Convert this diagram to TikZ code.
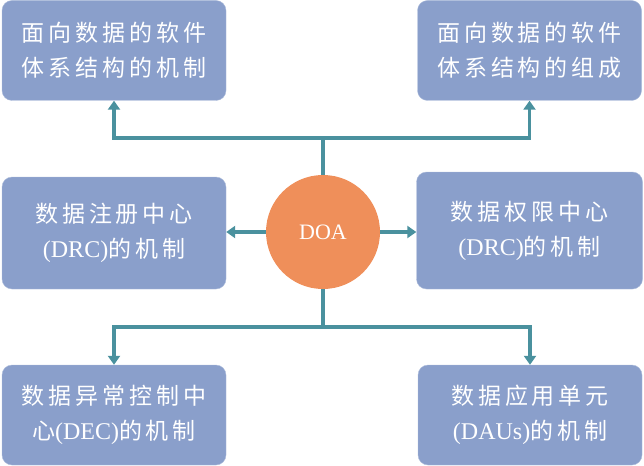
\documentclass[tikz,border=0pt]{standalone}
\usepackage{fontspec}
\setmainfont{Liberation Serif}
\newfontfamily\cjk[LetterSpace=17]{Noto Sans CJK SC}
\usepackage{tikz}
\usepackage{xcolor}
\usetikzlibrary{positioning}
\usetikzlibrary{arrows.meta}
\definecolor{boxblue}{HTML}{8A9FCB}
\definecolor{hubor}{HTML}{EF8F5A}
\definecolor{linkteal}{HTML}{4A919E}
\newcommand{\abbrv}[1]{{\rmfamily\fontsize{24}{34}\selectfont #1}}
\tikzstyle{mechbox} = [rectangle, rounded corners=10pt, minimum width=224pt, minimum height=100pt, text centered, draw=boxblue!70!white, fill=boxblue, text=white, align=center, font=\fontsize{23}{35}\selectfont\cjk]
\tikzstyle{hub} = [circle, minimum size=114pt, fill=hubor, text=white, font=\fontsize{22}{25}\selectfont]
\tikzstyle{arrow} = [line width=3.5pt, draw=linkteal, ->, >={Triangle[width=12pt,length=9pt]}]

\begin{document}
\begin{tikzpicture}[x=1pt, y=-1pt]
        \useasboundingbox (0,0) rectangle (644,465);
        \node (doa) [hub] at (323,232) {DOA};
        \node (sdamech) [mechbox] at (114,50.5) {面向数据的软件\\体系结构的机制};
        \node (sdacomp) [mechbox] at (529.5,50.5) {面向数据的软件\\体系结构的组成};
        \node (regctr) [mechbox, minimum height=112pt] at (114,233) {数据注册中心\\\abbrv{(DRC)}的机制};
        \node (authctr) [mechbox, minimum width=226pt, minimum height=117pt] at (529.5,230.5) {数据权限中心\\\abbrv{(DRC)}的机制};
        \node (excctr) [mechbox] at (114,415) {数据异常控制中\\心\abbrv{(DEC)}的机制};
        \node (appunit) [mechbox] at (530,415) {数据应用单元\\\abbrv{(DAUs)}的机制};

        \coordinate (topfork) at (323,138);
        \coordinate (botfork) at (323,327);

        \draw [arrow] (doa.north) -- (topfork) -| (sdamech.south);
        \draw [arrow] (doa.north) -- (topfork) -| (sdacomp.south);
        \draw [arrow] (doa.west) -- (regctr.east |- doa.west);
        \draw [arrow] (doa.east) -- (authctr.west |- doa.east);
        \draw [arrow] (doa.south) -- (botfork) -| (excctr.north);
        \draw [arrow] (doa.south) -- (botfork) -| (appunit.north);
    \end{tikzpicture}
\end{document}
